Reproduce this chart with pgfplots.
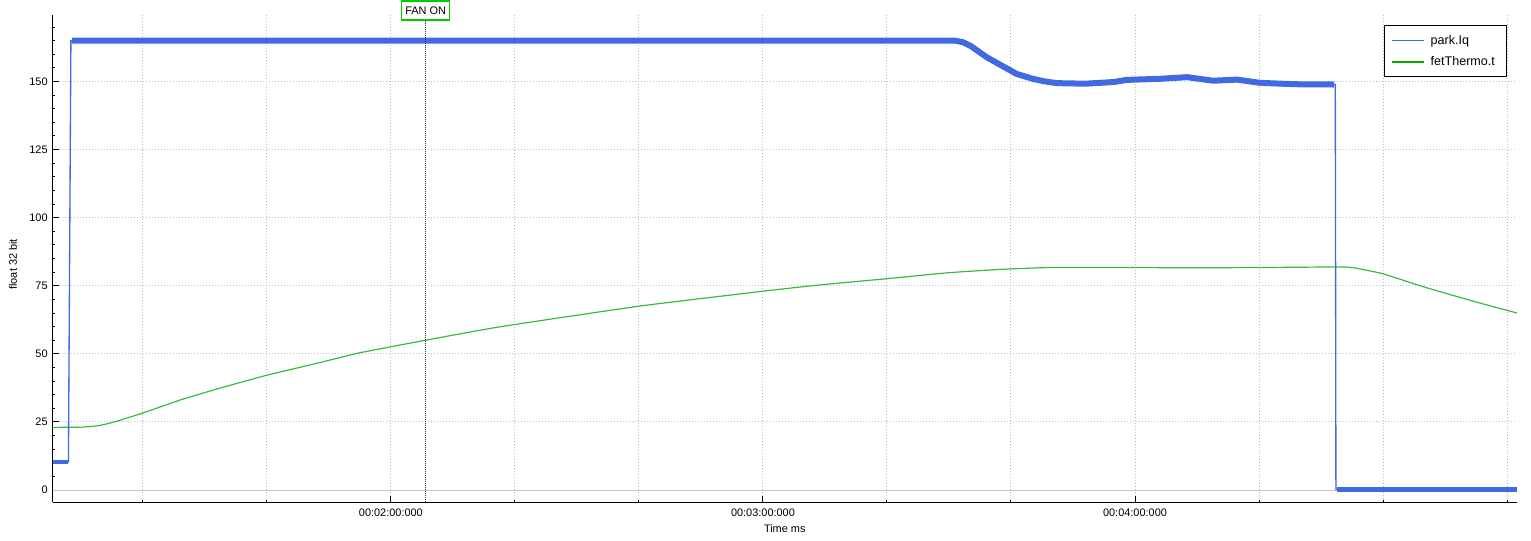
\documentclass[border=0pt]{standalone}
\usepackage{fontspec}
\setmainfont{Liberation Sans}
\usepackage{pgfplots}
\pgfplotsset{compat=1.18}
\definecolor{iqblue}{RGB}{65,105,225}
\definecolor{thgreen}{RGB}{60,185,60}
\definecolor{boxgreen}{RGB}{0,205,0}
\definecolor{gridgray}{RGB}{190,190,190}
\begin{document}
\begin{tikzpicture}
\begin{axis}[
  at={(0,0)}, anchor=south west, name=ax,
  scale only axis, width=1098pt, height=365.5pt,
  xmin=65.44, xmax=301.6, ymin=-4.5, ymax=174.5,
  axis x line*=bottom, axis y line*=left,
  axis line style={black, line width=0.75pt},
  xtick={120,180,240},
  xticklabels={00:02:00:000,00:03:00:000,00:04:00:000},
  minor xtick={80,100,140,160,200,220,260,280,300},
  ytick={0,25,...,150},
  minor ytick={5,10,15,20,30,35,40,45,55,60,65,70,80,85,90,95,105,110,115,120,130,135,140,145,155,160,165,170},
  tick align=inside,
  major tick length=4.5pt, minor tick length=2pt,
  every tick/.style={black, line width=0.75pt},
  xmajorgrids, xminorgrids, ymajorgrids,
  major grid style={gridgray, dash pattern=on 0.75pt off 1.5pt, line width=0.75pt},
  minor grid style={gridgray, dash pattern=on 0.75pt off 1.5pt, line width=0.75pt},
  /pgf/number format/assume math mode=true,
  ticklabel style={font=\fontsize{8.2}{10}\selectfont},
  yticklabel style={inner xsep=0pt, xshift=-3.5pt},
  xticklabel style={yshift=-1.5pt},
  xlabel={Time ms}, ylabel={float 32 bit},
  label style={font=\fontsize{8.2}{10}\selectfont},
  xlabel style={at={(axis description cs:0.5,-0.0533)}, anchor=center},
  ylabel style={at={(axis description cs:-0.027,0.488)}, anchor=center},
]
% zero line
\addplot[forget plot, color=gray!45, line width=0.75pt] coordinates {(65.44,0) (301.6,0)};
% fetThermo.t
\addplot[color=thgreen, line width=0.9pt, smooth, tension=0.3] coordinates {
(65.44,23.0) (70.3,23.1) (73.0,23.7) (75.7,25.2) (80.0,28.3) (86.5,33.4) (92.9,37.7)
(99.9,42.1) (108.0,46.5) (115.0,50.4) (125.6,55.0) (137.5,59.9) (160.0,67.5)
(180.0,73.0) (189.1,75.3) (200.0,77.6) (210.0,79.8) (218.2,81.0) (226.4,81.7)
(240.0,81.7) (248.2,81.6) (260.0,81.7) (272.2,81.9) (275.0,81.7) (280.0,79.4)
(286.4,74.7) (294.6,69.3) (301.6,65.0)};
% park.Iq (thin, whole series)
\addplot[color=iqblue, line width=1pt] coordinates {
(65.44,10.3) (68.0,10.3) (68.4,165.0) (211.0,165.0) (212.3,164.4) (213.6,162.9)
(216.1,158.9) (220.9,152.8) (223.5,151.0) (225.3,150.1) (227.4,149.4) (232.0,149.2)
(236.5,149.8) (238.7,150.6) (244.0,151.0) (248.4,151.6) (252.6,150.3) (256.4,150.7)
(260.2,149.5) (266.0,149.0) (272.3,148.9) (272.4,0.2) (301.6,0.2)};
% park.Iq noise band
\addplot[color=iqblue, line width=2.6pt] coordinates {(65.44,10.3) (68.0,10.3)};
\addplot[color=iqblue, line width=4.5pt, line join=round] coordinates {
(68.6,165.0) (211.0,165.0) (212.3,164.4) (213.6,162.9)
(216.1,158.9) (220.9,152.8) (223.5,151.0) (225.3,150.1) (227.4,149.4) (232.0,149.2)
(236.5,149.8) (238.7,150.6) (244.0,151.0) (248.4,151.6) (252.6,150.3) (256.4,150.7)
(260.2,149.5) (266.0,149.0) (272.1,148.9)};
\addplot[color=iqblue, line width=3.6pt] coordinates {(272.6,0.2) (301.6,0.2)};
% FAN ON marker line
\addplot[color=black!80, dash pattern=on 0.75pt off 0.75pt, line width=0.75pt] coordinates {(125.6,-4.5) (125.6,174.5)};
\coordinate (fan) at (axis cs:125.6,174.5);
\end{axis}
\node[draw=boxgreen, line width=1.1pt, fill=white, minimum width=36pt, minimum height=14pt,
  inner sep=0pt, font=\fontsize{8.2}{10}\selectfont, yshift=3.2pt] at (fan) {FAN ON};
% legend
\draw[black, line width=0.75pt, fill=white] (998.6pt,319.5pt) rectangle (1089.9pt,357.1pt);
\draw[iqblue, line width=1.2pt] (1003.9pt,346.1pt) -- (1027.9pt,346.1pt);
\draw[boxgreen!85!black, line width=1.2pt] (1003.9pt,330.3pt) -- (1027.9pt,330.3pt);
\node[anchor=base west, inner sep=0pt, font=\fontsize{9.4}{11}\selectfont] at (1033.1pt,343.1pt) {park.Iq};
\node[anchor=base west, inner sep=0pt, font=\fontsize{9.4}{11}\selectfont] at (1033.1pt,327.3pt) {fetThermo.t};
\pgfresetboundingbox
\useasboundingbox (-39.4pt,-29pt) rectangle (1108.5pt,376.6pt);
\end{tikzpicture}
\end{document}
